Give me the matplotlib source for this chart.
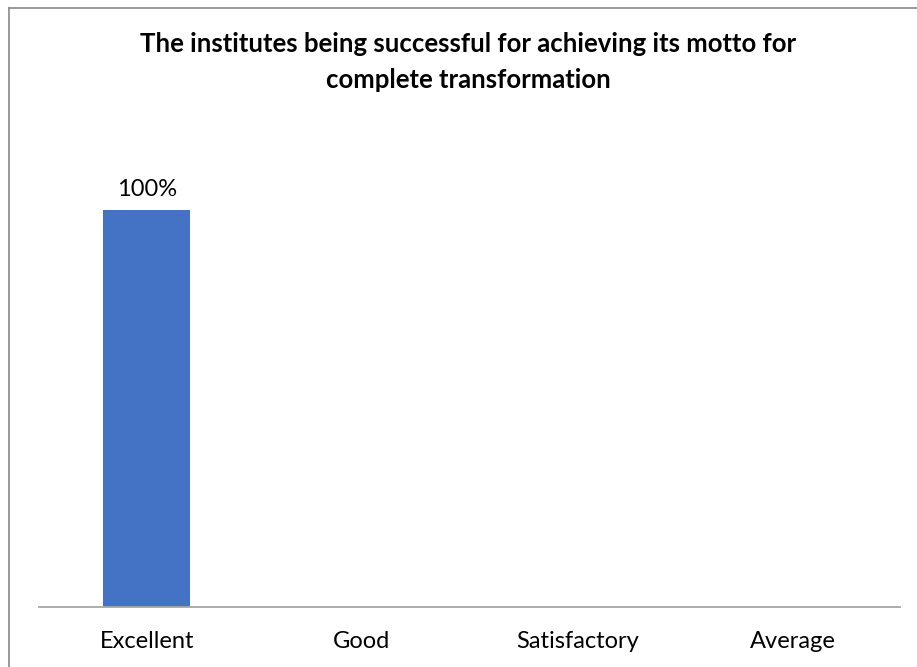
import matplotlib.pyplot as plt
from matplotlib.lines import Line2D

categories = ["Excellent", "Good", "Satisfactory", "Average"]
values = [100, 0, 0, 0]
title = "The institutes being successful for achieving its motto for\ncomplete transformation"

plt.rcParams["font.family"] = ["Lato", "DejaVu Sans"]

fig = plt.figure(figsize=(9.17, 6.67), dpi=100)
ax = fig.add_axes([39 / 917, 1 - 607 / 667, 861 / 917, 487 / 667])

x = range(len(categories))
bars = ax.bar(x, values, width=0.405, color="#4472C4")
for b, v in zip(bars, values):
    if v > 0:
        ax.text(b.get_x() + b.get_width() / 2, v + 2.5, f"{v}%", ha="center",
                va="bottom", fontsize=17, color="#000000")

ax.set_xlim(-0.5, len(categories) - 0.5)
ax.set_ylim(0, 122.7)
ax.set_xticks(list(x))
ax.set_xticklabels(categories, fontsize=17)
ax.tick_params(axis="x", length=0, pad=17)
ax.set_yticks([])
for s in ["top", "right", "left"]:
    ax.spines[s].set_visible(False)
ax.spines["bottom"].set_color("#A6A6A6")
ax.spines["bottom"].set_linewidth(1.3)

fig.text(468 / 917, 1 - 62 / 667, title, ha="center", va="center", fontsize=18.5,
         fontweight="bold", linespacing=1.55)

# chart border (only top and left edges are visible)
fig.add_artist(Line2D([9 / 917, 1], [1 - 8 / 667, 1 - 8 / 667], color="#888888", lw=1.2))
fig.add_artist(Line2D([9 / 917, 9 / 917], [0, 1 - 8 / 667], color="#888888", lw=1.2))

fig.savefig("out.png", dpi=100)
